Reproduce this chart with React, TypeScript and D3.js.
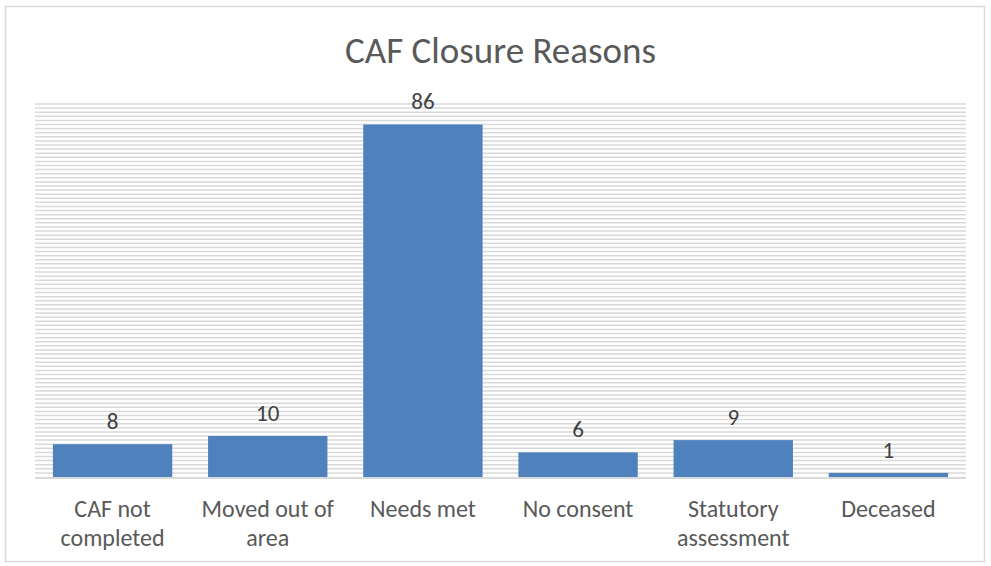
import React from "react";
import * as d3 from "d3";

const categories: string[][] = [
  ["CAF not", "completed"],
  ["Moved out of", "area"],
  ["Needs met"],
  ["No consent"],
  ["Statutory", "assessment"],
  ["Deceased"],
];
const values: number[] = [8, 10, 86, 6, 9, 1];
const title = "CAF Closure Reasons";

const W = 991;
const H = 566;
const plot = { left: 35, right: 966, top: 104, bottom: 477 };
const FONT = "Carlito, Calibri, Lato, 'Liberation Sans', sans-serif";

export default function App() {
  const keys = categories.map((c) => c.join(" "));
  const x = d3
    .scaleBand<string>()
    .domain(keys)
    .range([plot.left, plot.right])
    .paddingInner(0.3 / 1.3)
    .paddingOuter(0.15 / 1.3);
  const y = d3.scaleLinear().domain([0, 91]).range([plot.bottom, plot.top]);
  const grid = d3.range(1, 92);

  return (
    <svg
      width={W}
      height={H}
      style={{ position: "absolute", left: 0, top: 0, background: "#fff" }}
    >
      <rect x={0} y={0} width={W} height={H} fill="#fff" />
      <rect
        x={5.5}
        y={6.5}
        width={979}
        height={555}
        fill="#fff"
        stroke="#d9d9d9"
        strokeWidth={1.5}
      />
      <text
        x={W / 2 + 5}
        y={63}
        textAnchor="middle"
        fontFamily={FONT}
        fontSize={37}
        fill="#595959"
      >
        {title}
      </text>
      {grid.map((g) => (
        <line
          key={g}
          x1={plot.left}
          x2={plot.right}
          y1={y(g)}
          y2={y(g)}
          stroke="#d9d9d9"
          strokeWidth={1.5}
        />
      ))}
      {values.map((v, i) => (
        <rect
          key={keys[i]}
          x={x(keys[i])}
          y={y(v)}
          width={x.bandwidth()}
          height={y(0) - y(v)}
          fill="#4f81bd"
        />
      ))}
      <line
        x1={plot.left}
        x2={plot.right}
        y1={plot.bottom + 1}
        y2={plot.bottom + 1}
        stroke="#d9d9d9"
        strokeWidth={2}
      />
      {values.map((v, i) => (
        <text
          key={"v" + i}
          x={(x(keys[i]) as number) + x.bandwidth() / 2}
          y={y(v) - 15}
          textAnchor="middle"
          fontFamily={FONT}
          fontSize={23}
          fill="#404040"
        >
          {v}
        </text>
      ))}
      {categories.map((lines, i) => (
        <text
          key={"c" + i}
          x={(x(keys[i]) as number) + x.bandwidth() / 2}
          y={517}
          textAnchor="middle"
          fontFamily={FONT}
          fontSize={24}
          fill="#595959"
        >
          {lines.map((l, j) => (
            <tspan key={j} x={(x(keys[i]) as number) + x.bandwidth() / 2} dy={j === 0 ? 0 : 29}>
              {l}
            </tspan>
          ))}
        </text>
      ))}
    </svg>
  );
}
